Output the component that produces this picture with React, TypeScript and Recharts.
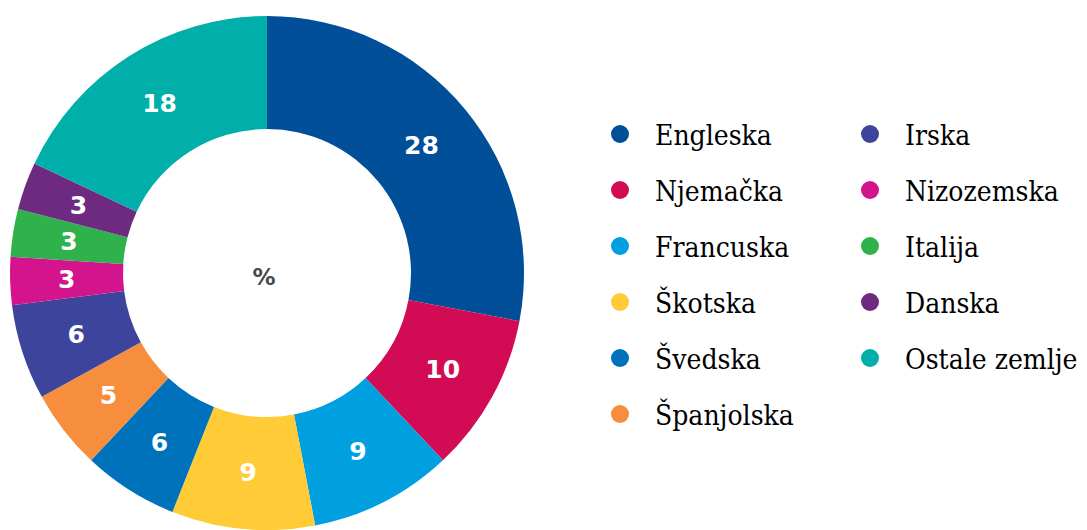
import { PieChart, Pie, Cell, Legend } from 'recharts';

const countries = [
    'Engleska', 'Njemačka', 'Francuska', 'Škotska', 'Švedska', 'Španjolska',
    'Irska', 'Nizozemska', 'Italija', 'Danska', 'Ostale zemlje',
];
const shares = [28, 10, 9, 9, 6, 5, 6, 3, 3, 3, 18];
const colors = [
    '#004f98', '#d20b54', '#009fdf', '#ffcb36', '#0072bb', '#f68e3e',
    '#3c449b', '#d4148c', '#2fb14b', '#6e2a80', '#00afa9',
];

const chartData = countries.map((name, i) => ({ name, value: shares[i], color: colors[i] }));

const RAD = Math.PI / 180;

function renderLabel({ cx, cy, midAngle, innerRadius, outerRadius, value }: any) {
    const r = (innerRadius + outerRadius) / 2;
    const x = cx + r * Math.cos(-midAngle * RAD);
    const y = cy + r * Math.sin(-midAngle * RAD);
    return (
        <text
            x={x}
            y={y}
            fill="#ffffff"
            textAnchor="middle"
            dominantBaseline="central"
            style={{ fontFamily: '"DejaVu Sans", sans-serif', fontWeight: 'bold', fontSize: 25 }}
        >
            {value}
        </text>
    );
}

// legend in two columns: first six countries left, the rest right
function LegendBox() {
    return (
        <svg width={1087} height={530} style={{ position: 'absolute', left: 0, top: 0 }}>
            {chartData.map((d, i) => {
                const col = i < 6 ? 0 : 1;
                const row = i < 6 ? i : i - 6;
                const dotX = col === 0 ? 620 : 870;
                const y = 134 + row * 56;
                return (
                    <g key={d.name}>
                        <circle cx={dotX} cy={y} r={9} fill={d.color} />
                        <text
                            x={dotX + 35}
                            y={y + 11}
                            fontSize={28}
                            fill="#000"
                            style={{ fontFamily: '"DejaVu Serif"', fontStretch: 'condensed' }}
                        >
                            {d.name}
                        </text>
                    </g>
                );
            })}
        </svg>
    );
}

export default function App() {
    return (
        <div style={{ position: 'absolute', left: 0, top: 0, width: 1087, height: 530, background: '#fff' }}>
            <PieChart width={1087} height={530} margin={{ top: 0, right: 0, bottom: 0, left: 0 }}>
                <Pie
                    data={chartData}
                    dataKey="value"
                    nameKey="name"
                    cx={267}
                    cy={273}
                    innerRadius={144}
                    outerRadius={257}
                    startAngle={90}
                    endAngle={-270}
                    stroke="none"
                    label={renderLabel}
                    labelLine={false}
                    isAnimationActive={false}
                >
                    {chartData.map((entry, i) => (
                        <Cell key={i} fill={entry.color} />
                    ))}
                </Pie>
                <text
                    x={264}
                    y={277}
                    textAnchor="middle"
                    dominantBaseline="central"
                    fill="#4a4a4a"
                    style={{ fontFamily: '"DejaVu Sans", sans-serif', fontWeight: 'bold', fontSize: 23 }}
                >
                    %
                </text>
                <Legend
                    content={() => <LegendBox />}
                    wrapperStyle={{ left: 0, top: 0, width: 1087, height: 530 }}
                />
            </PieChart>
        </div>
    );
}
